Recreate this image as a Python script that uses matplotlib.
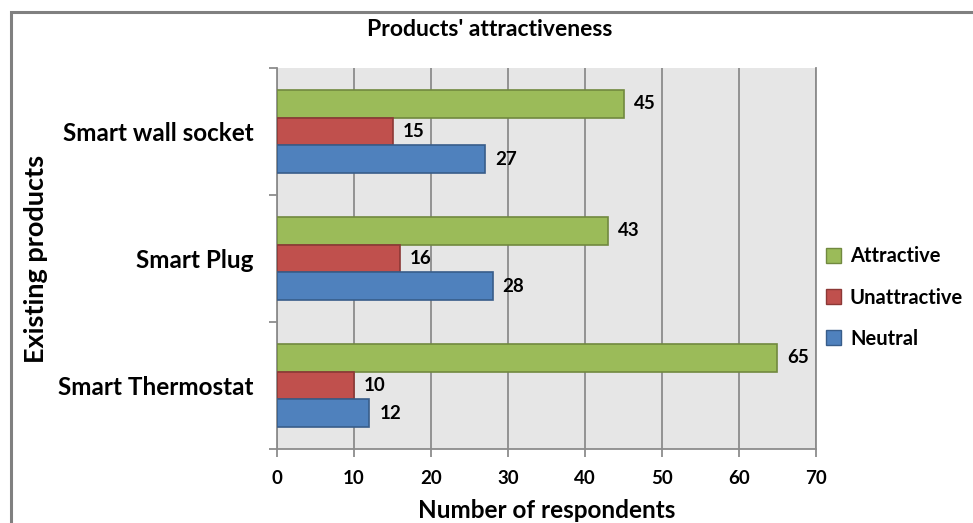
import numpy as np
import matplotlib.pyplot as plt
from matplotlib.patches import Rectangle, Patch

plt.rcParams['font.family'] = ['Lato', 'DejaVu Sans']
plt.rcParams['font.weight'] = 'bold'

categories = ['Smart wall socket', 'Smart Plug', 'Smart Thermostat']
series = ['Attractive', 'Unattractive', 'Neutral']
attractive = [45, 43, 65]
unattractive = [15, 16, 10]
neutral = [27, 28, 12]
x_ticks = [0, 10, 20, 30, 40, 50, 60, 70]

colors = {'Attractive': ('#9BBB59', '#71893F'),
          'Unattractive': ('#C0504D', '#8C3836'),
          'Neutral': ('#4F81BD', '#385D8A')}

fig = plt.figure(figsize=(9.73, 5.23), dpi=100)
fig.patches.append(Rectangle((11 / 973, -0.1), 1.2, 1 - 12 / 523 + 0.1,
                             transform=fig.transFigure, fill=False,
                             edgecolor='#808080', linewidth=2.2, zorder=0))

ax = fig.add_axes([277 / 973, 1 - 449 / 523, 539 / 973, 381 / 523])
ax.set_facecolor('#E6E6E6')

h = 0.22
y_center = np.arange(len(categories))[::-1]  # top category first
offsets = [h, 0, -h]
values = [attractive, unattractive, neutral]

for name, vals, off in zip(series, values, offsets):
    face, edge = colors[name]
    ax.barh(y_center + off, vals, height=h, color=face, edgecolor=edge,
            linewidth=1.2, zorder=3)
    for yc, v in zip(y_center, vals):
        ax.text(v + 1.3, yc + off, str(v), va='center', ha='left',
                fontsize=13.5, fontweight='bold', zorder=4)

ax.set_xlim(0, 70)
ax.set_ylim(-0.5, len(categories) - 0.5)
ax.set_xticks(x_ticks)
ax.set_xticklabels([str(t) for t in x_ticks], fontsize=13.5, fontweight='bold')
ax.xaxis.grid(True, color='#8C8C8C', linewidth=1.3, zorder=1)
ax.set_axisbelow(True)

ax.set_yticks(np.arange(-0.5, len(categories), 1.0))
ax.set_yticklabels([])
ax.set_yticks(y_center, minor=True)
ax.set_yticklabels(categories, minor=True, fontsize=17.5, fontweight='bold')
ax.tick_params(axis='y', which='minor', length=0, pad=17)
ax.tick_params(axis='y', which='major', length=6, color='#8C8C8C', width=1.3)
ax.tick_params(axis='x', length=6, color='#8C8C8C', width=1.3, pad=9)

ax.spines['top'].set_visible(False)
for s in ['left', 'bottom', 'right']:
    ax.spines[s].set_color('#8C8C8C')
    ax.spines[s].set_linewidth(1.3)

ax.set_xlabel('Number of respondents', fontsize=17.5, fontweight='bold', labelpad=9)
ax.set_ylabel('Existing products', fontsize=19.5, fontweight='bold')
ax.yaxis.set_label_coords(-0.425, 0.5)

fig.text(490 / 973, 1 - 30 / 523, "Products' attractiveness", ha='center',
         va='center', fontsize=16.5, fontweight='bold')

handles = [Patch(facecolor=colors[n][0], edgecolor=colors[n][1]) for n in series]
fig.legend(handles, series, loc='center left', bbox_to_anchor=(0.83, 0.431),
           frameon=False, labelspacing=1.05, handlelength=0.75,
           handleheight=0.75, handletextpad=0.45,
           prop={'weight': 'bold', 'size': 14.5})

fig.savefig('out.png', dpi=100)
